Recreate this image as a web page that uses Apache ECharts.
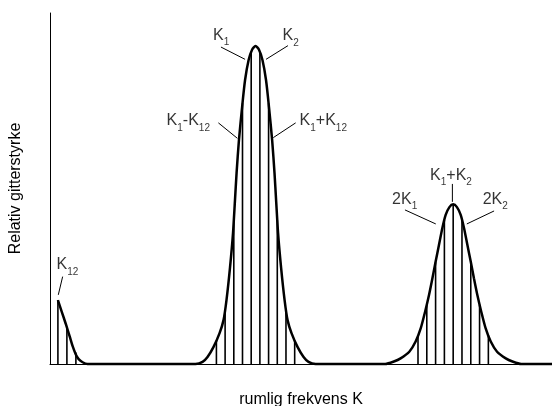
<!DOCTYPE html>
<html><head><meta charset="utf-8">
<script src="https://cdn.jsdelivr.net/npm/echarts@6/dist/echarts.min.js"></script>
<style>html,body{margin:0;padding:0;background:#fff}#c{width:552px;height:406px}</style>
</head><body><div id="c"></div>
<script>
const FONT = '"Liberation Sans", Arial, Helvetica, sans-serif';
const xAxisTitle = 'rumlig frekvens K';
const yAxisTitle = 'Relativ gitterstyrke';

// curve samples [K, relative strength]
const peakK12 = [[0,18.2],[0.02,14.8],[0.04,11.4],[0.06,7.8],[0.075,5.0],[0.09,2.8],[0.105,1.4],[0.125,0.5],[0.15,0]];
const peakK1K2 = [[0.696,0],[0.732,0.6],[0.757,2.0],[0.787,4.8],[0.818,8.8],[0.838,12.5],[0.853,18.2],[0.871,27.6],[0.886,37.3],[0.896,46.7],[0.904,54.4],[0.916,63.8],[0.932,73.2],[0.947,80.9],[0.965,86.6],[0.983,89.6],[1.0,90.6],
  [1.017,89.6],[1.035,86.6],[1.053,80.9],[1.068,73.2],[1.084,63.8],[1.096,54.4],[1.104,46.7],[1.114,37.3],[1.129,27.6],[1.147,18.2],[1.162,12.5],[1.182,8.8],[1.213,4.8],[1.243,2.0],[1.268,0.6],[1.304,0]];
const peak2K = [[1.656,0],[1.700,0.7],[1.734,1.6],[1.778,3.5],[1.810,6.4],[1.836,10.2],[1.858,14.9],[1.878,19.7],[1.895,24.4],[1.911,29.1],[1.928,33.9],[1.945,38.7],[1.962,42.5],[1.981,44.7],[2.0,45.5],
  [2.019,44.7],[2.038,42.5],[2.055,38.7],[2.072,33.9],[2.089,29.1],[2.105,24.4],[2.122,19.7],[2.142,14.9],[2.164,10.2],[2.190,6.4],[2.222,3.5],[2.266,1.6],[2.300,0.7],[2.344,0],[2.5,0]];

// vertical hatch lines under the curves
const hatchK = [0,0.0455,0.091, 0.802,0.846,0.890,0.934,0.978,1.022,1.066,1.110,1.154,1.198, 1.822,1.8665,1.911,1.9555,2.0,2.0445,2.089,2.1335,2.178];
const hatchValue = [18.2,10.4,3.3, 6.7,15.5,41.0,74.3,88.6,88.6,74.3,41.0,15.5,6.7, 8.2,16.9,29.0,41.0,45.5,41.0,29.0,16.9,8.2];

// annotation texts (rich text, subscripts in {s|..})
const labelTexts = ['{b|K}{s|1}','{b|K}{s|2}','{b|K}{s|1}{b|-K}{s|12}','{b|K}{s|1}{b|+K}{s|12}','{b|K}{s|1}{b|+K}{s|2}','{b|2K}{s|1}','{b|2K}{s|2}','{b|K}{s|12}'];
// top-left anchor of each annotation, in data units
const labelAnchor = [[0.785,95.8],[1.137,95.7],[0.550,71.5],[1.223,71.5],[1.883,56.0],[1.691,49.1],[2.149,49.1],[-0.007,30.5]];
// leader line segments [x1,y1,x2,y2] in data units
const leaders = [[0.825,90.3,0.947,86.8],[1.164,90.7,1.053,86.8],[0.812,68.7,0.908,64.3],[1.203,68.7,1.090,64.5],[1.996,51.3,1.996,46.2],[1.756,43.9,1.912,39.9],[2.207,43.6,2.069,39.9],[0.024,24.9,0.002,19.7]];

const chart = echarts.init(document.getElementById('c'), null, {renderer:'canvas'});
const rich = {
  b:{fontSize:16, fontFamily:FONT, color:'#000', lineHeight:20, verticalAlign:'top'},
  s:{fontSize:10, fontFamily:FONT, color:'#000', lineHeight:10, verticalAlign:'bottom'}
};
chart.setOption({
  animation:false,
  backgroundColor:'#fff',
  grid:{left:50, right:0, top:13, bottom:42, outerBoundsMode:'none', containLabel:false},
  xAxis:{type:'value', min:-0.04, max:2.5,
    axisLine:{show:true, onZero:false, lineStyle:{color:'#000', width:1}},
    axisTick:{show:false}, axisLabel:{show:false}, splitLine:{show:false},
    name:xAxisTitle, nameLocation:'middle', nameGap:28,
    nameTextStyle:{fontFamily:FONT, fontSize:16, color:'#000'}},
  yAxis:{type:'value', min:0, max:100,
    axisLine:{show:true, onZero:false, lineStyle:{color:'#000', width:1}},
    axisTick:{show:false}, axisLabel:{show:false}, splitLine:{show:false},
    name:yAxisTitle, nameLocation:'middle', nameGap:26,
    nameTextStyle:{fontFamily:FONT, fontSize:16, color:'#000'}},
  series:[
    {type:'custom', silent:true, z:2,
      data: hatchK.map((k,i)=>[k, hatchValue[i]]),
      encode:{x:0, y:1},
      renderItem:(p, api)=>{
        const t = api.coord([api.value(0), api.value(1)]);
        const b = api.coord([api.value(0), 0]);
        return {type:'line', shape:{x1:t[0], y1:t[1], x2:b[0], y2:b[1]}, style:{stroke:'#000', lineWidth:1.6}};
      }},
    {type:'line', silent:true, z:3, clip:false, symbol:'none', smooth:0.25,
      data: peakK12.concat(peakK1K2, peak2K),
      lineStyle:{color:'#000', width:2.5}},
    {type:'custom', silent:true, z:4,
      data: leaders,
      encode:{x:[0,2], y:[1,3]},
      renderItem:(p, api)=>{
        const a = api.coord([api.value(0), api.value(1)]);
        const b = api.coord([api.value(2), api.value(3)]);
        return {type:'line', shape:{x1:a[0], y1:a[1], x2:b[0], y2:b[1]}, style:{stroke:'#000', lineWidth:1}};
      }},
    {type:'scatter', silent:true, z:5, symbolSize:0,
      data: labelAnchor.map((a,i)=>({value:a, label:{formatter:labelTexts[i]}})),
      label:{show:true, position:[0,0], align:'left', verticalAlign:'top', rich:rich,
        fontFamily:FONT, fontSize:16, color:'#000'}}
  ]
});
</script></body></html>
